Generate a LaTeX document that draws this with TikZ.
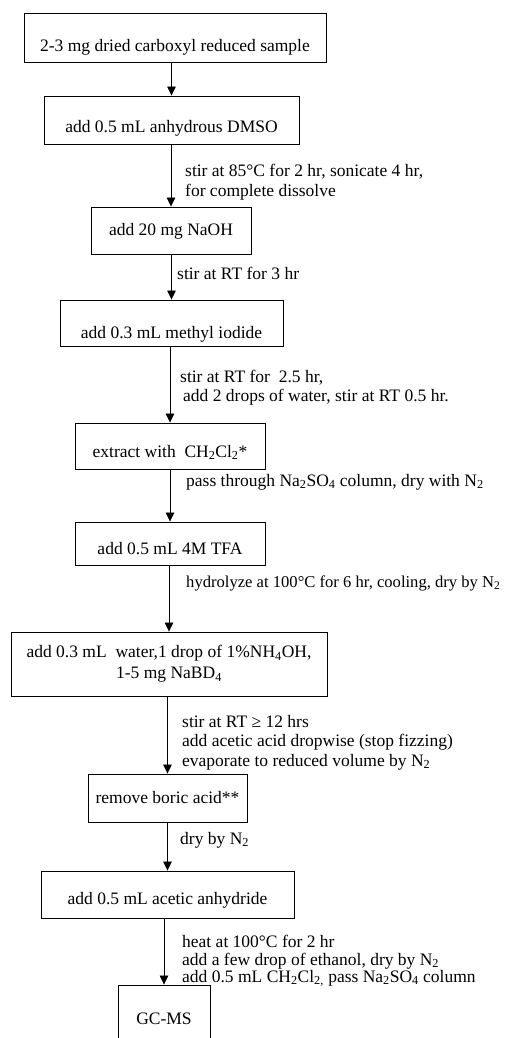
\documentclass[tikz,border=0pt]{standalone}
\usepackage{fontspec}
\setmainfont{Liberation Serif}
\usetikzlibrary{arrows.meta}
\newcommand{\sub}[1]{\textsubscript{#1}}
\begin{document}
\begin{tikzpicture}[x=1pt,y=-1pt,
  bx/.style={draw, line width=0.9pt, inner sep=0pt, anchor=base, font=\fontsize{17.5}{19.5}\selectfont},
  lbl/.style={anchor=base west, inner sep=0pt, font=\fontsize{17.5}{19.5}\selectfont},
  arr/.style={line width=0.7pt, -{Triangle[length=9pt,width=8.5pt]}}]
\useasboundingbox (0,0) rectangle (514,1038);
\fill[white] (0,0) rectangle (514,1038);
% boxes
\node[bx, minimum width=302pt, text height=39pt, text depth=10pt] (b1) at (175,52) {2-3 mg dried carboxyl reduced sample};
\node[bx, minimum width=255pt, text height=36pt, text depth=12pt] (b2) at (171.5,132) {add 0.5 mL anhydrous DMSO};
\node[bx, minimum width=160pt, text height=28pt, text depth=19pt] (b3) at (171,235) {add 20 mg NaOH};
\node[bx, minimum width=223pt, text height=38pt, text depth=8pt] (b4) at (171.5,338) {add 0.3 mL methyl iodide};
\node[bx, minimum width=190pt, text height=34pt, text depth=12pt] (b5) at (170,457) {extract with\ \ CH\sub{2}Cl\sub{2}*};
\node[bx, minimum width=190pt, text height=32pt, text depth=11pt] (b6) at (170,554) {add 0.5 mL 4M TFA};
\node[draw, line width=0.9pt, inner sep=0pt, anchor=center, align=center, minimum width=316pt, minimum height=64pt,
  font=\fontsize{17.5}{21}\selectfont] (b7) at (169,664) {add 0.3 mL\ \ water,1 drop of 1\%NH\sub{4}OH,\\ 1-5 mg NaBD\sub{4}};
\node[bx, minimum width=159pt, text height=29pt, text depth=19pt] (b8) at (167.5,803) {remove boric acid**};
\node[bx, minimum width=253pt, text height=33pt, text depth=14pt] (b9) at (167.5,904) {add 0.5 mL acetic anhydride};
\node[bx, minimum width=92pt, text height=39pt, text depth=21pt] (b10) at (164,1024) {GC-MS};
% arrows
\draw[arr] (b1.south -| b2.north) -- (b2.north);
\draw[arr] (b2.south -| b3.north) -- (b3.north);
\draw[arr] (b3.south -| b4.north) -- (b4.north);
\draw[arr] (b4.south -| b5.north) -- (b5.north);
\draw[arr] (b5.south -| b6.north) -- (b6.north);
\draw[arr] (b6.south -| b7.north) -- (b7.north);
\draw[arr] (b7.south -| b8.north) -- (b8.north);
\draw[arr] (b8.south -| b9.north) -- (b9.north);
\draw[arr] (b9.south -| b10.north) -- (b10.north);
% labels
\node[lbl] (l1a) at (185,176) {stir at 85°C for 2 hr, sonicate 4 hr,};
\node[lbl] (l1b) at (185,196) {for complete dissolve};
\node[lbl] (l2) at (177,279) {stir at RT for 3 hr};
\node[lbl] (l3a) at (180,382) {stir at RT for\ \ 2.5 hr,};
\node[lbl] (l3b) at (183,401) {add 2 drops of water, stir at RT 0.5 hr.};
\node[lbl] (l4) at (186,486) {pass through Na\sub{2}SO\sub{4} column, dry with N\sub{2}};
\node[lbl, font=\fontsize{16.6}{19.5}\selectfont] (l5) at (186,587) {hydrolyze at 100°C for 6 hr, cooling, dry by N\sub{2}};
\node[lbl] (l6a) at (182,727) {stir at RT ≥ 12 hrs};
\node[lbl] (l6b) at (182,746) {add acetic acid dropwise (stop fizzing)};
\node[lbl] (l6c) at (182,766) {evaporate to reduced volume by N\sub{2}};
\node[lbl] (l7) at (180,844) {dry by N\sub{2}};
\node[lbl] (l8a) at (182,947) {heat at 100°C for 2 hr};
\node[lbl] (l8b) at (182,965) {add a few drop of ethanol, dry by N\sub{2}};
\node[lbl] (l8c) at (182,982) {add 0.5 mL CH\sub{2}Cl\sub{2,} pass Na\sub{2}SO\sub{4} column};
\end{tikzpicture}
\end{document}
